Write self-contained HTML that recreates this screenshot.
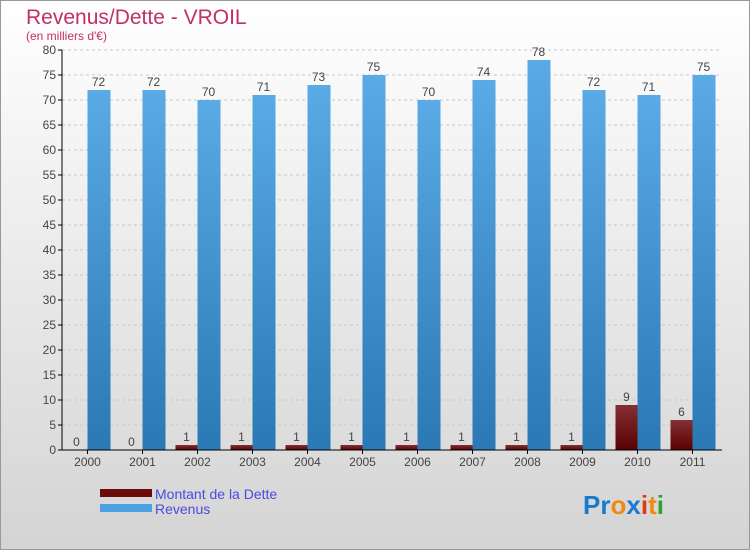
<!DOCTYPE html>
<html><head><meta charset="utf-8"><style>
body{margin:0;width:750px;height:550px;overflow:hidden;font-family:"Liberation Sans",sans-serif}
</style></head><body>
<svg width="750" height="550" style="display:block">
<defs>
<linearGradient id="bg" x1="0" y1="0" x2="0" y2="1"><stop offset="0" stop-color="#ffffff"/><stop offset="1" stop-color="#d4d4d4"/></linearGradient>
<linearGradient id="rev" x1="0" y1="0" x2="0" y2="1"><stop offset="0" stop-color="#5aaae6"/><stop offset="1" stop-color="#2a78b4"/></linearGradient>
<linearGradient id="debt" x1="0" y1="0" x2="0" y2="1"><stop offset="0" stop-color="#853035"/><stop offset="1" stop-color="#5a0000"/></linearGradient>
</defs>
<rect x="0.5" y="0.5" width="749" height="549" fill="url(#bg)" stroke="#999"/>
<text x="26" y="24" font-size="21" fill="#c0306a">Revenus/Dette - VROIL</text>
<text x="26" y="40" font-size="12" fill="#c0306a">(en milliers d'€)</text>
<g id="grid"></g><g id="bars"></g><g id="axes"></g>
<g>
<rect x="100" y="489" width="52" height="8" fill="#6a0a0a"/>
<text x="155" y="499" font-size="14" fill="#4a4ae0">Montant de la Dette</text>
<rect x="100" y="504" width="52" height="8" fill="#4aa0e0"/>
<text x="155" y="514" font-size="14" fill="#4a4ae0">Revenus</text>
</g>
<g font-size="26" font-weight="bold" font-family="'Liberation Sans',sans-serif">
<text x="583" y="514"><tspan fill="#1a7ad0">Pr</tspan><tspan fill="#f08a10">o</tspan><tspan fill="#1a7ad0">x</tspan><tspan fill="#e03a10">i</tspan><tspan fill="#f08a10">t</tspan><tspan fill="#30a030">i</tspan></text>
</g>
</svg>
<script>
const years=["2000","2001","2002","2003","2004","2005","2006","2007","2008","2009","2010","2011"];
const revenus=[72,72,70,71,73,75,70,74,78,72,71,75];
const dette=[0,0,1,1,1,1,1,1,1,1,9,6];
const yTicks=[0,5,10,15,20,25,30,35,40,45,50,55,60,65,70,75,80];
const NS="http://www.w3.org/2000/svg";
const x0=62,x1=722,y0=450,y1=50,ymax=80;
const gw=(x1-x0)/years.length;
const Y=v=>y0-(v/ymax)*(y0-y1);
const cx=i=>x0+gw*(i+0.5)-2;
function mk(tag,attrs,parent,txt){const e=document.createElementNS(NS,tag);for(const k in attrs)e.setAttribute(k,attrs[k]);if(txt!==undefined)e.textContent=txt;parent.appendChild(e);return e;}
const grid=document.getElementById('grid'),bars=document.getElementById('bars'),axes=document.getElementById('axes');
yTicks.forEach(t=>{
  if(t>0){const l=mk('line',{x1:x0,x2:x1,y1:Y(t),y2:Y(t),stroke:'#c8c8c8','stroke-dasharray':'3,3'},grid);
  
  }
  const tk=mk('line',{x1:x0-4,x2:x0,y1:Y(t),y2:Y(t),stroke:'#000'},axes);
  
  
  const tx=mk('text',{x:x0-6,y:Y(t)+4,'font-size':12,fill:'#444','text-anchor':'end'},axes,String(t));
  
  
});
years.forEach((yr,i)=>{
  const c=cx(i),w=22;
  const d=mk('rect',{x:c-w,y:Y(dette[i]),width:w,height:y0-Y(dette[i]),fill:'url(#debt)'},bars);
  
  
  const r=mk('rect',{x:c,y:Y(revenus[i]),width:w+1,height:y0-Y(revenus[i]),fill:'url(#rev)'},bars);
  
  
  const dl=mk('text',{x:c-w/2,y:Y(dette[i])-4,'font-size':12,fill:'#444','text-anchor':'middle'},bars,String(dette[i]));
  
  
  const rl=mk('text',{x:c+w/2,y:Y(revenus[i])-4,'font-size':12,fill:'#444','text-anchor':'middle'},bars,String(revenus[i]));
  
  
  const xt=mk('line',{x1:c,x2:c,y1:y0,y2:y0+4,stroke:'#000'},axes);
  
  
  const xl=mk('text',{x:c,y:y0+16,'font-size':12,fill:'#444','text-anchor':'middle'},axes,yr);
  
  
});
const ya=mk('line',{x1:x0,x2:x0,y1:y1,y2:y0,stroke:'#000'},axes);


const xa=mk('line',{x1:x0,x2:x1,y1:y0,y2:y0,stroke:'#000'},axes);


</script>
</body></html>
